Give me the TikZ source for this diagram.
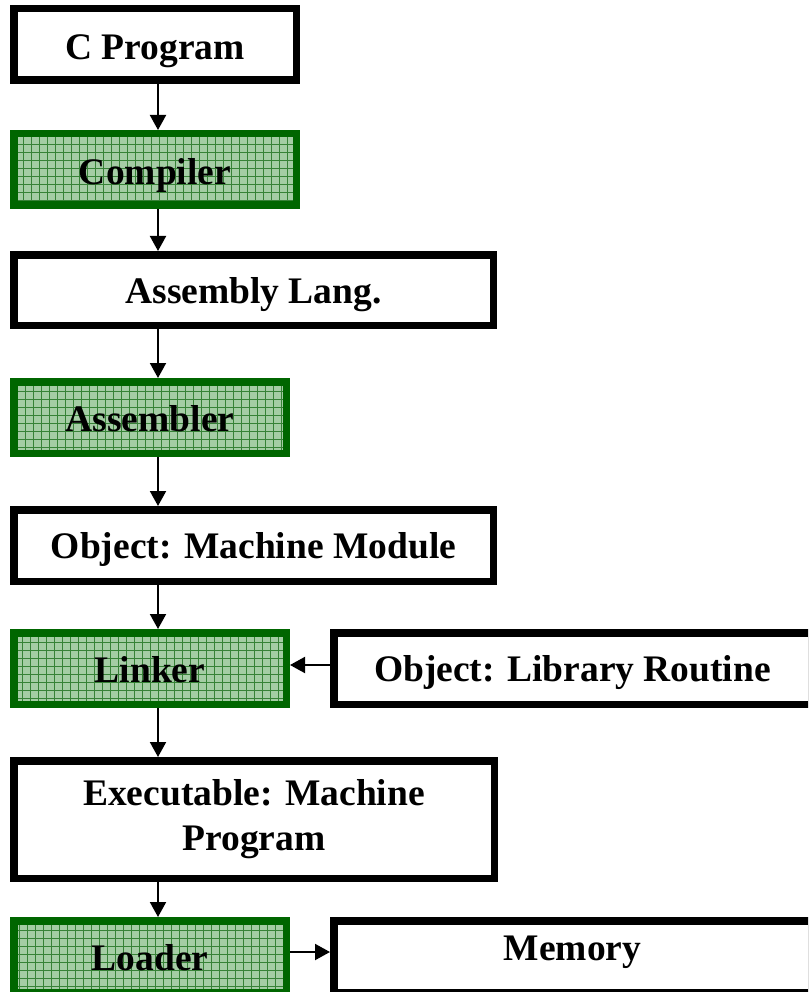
\documentclass[tikz,border=0pt]{standalone}
\usepackage{fontspec}
\setmainfont{Liberation Serif}
\usetikzlibrary{arrows.meta}
\definecolor{boxgreen}{RGB}{0,102,0}
\definecolor{fillgreen}{RGB}{165,205,165}
\definecolor{gridgreen}{RGB}{55,130,55}
\begin{document}
\begin{tikzpicture}[x=1pt,y=-1pt,
  box/.style={draw=black, line width=7.5pt, fill=white,
    font=\bfseries\fontsize{37.5}{45}\selectfont, align=center, inner sep=0pt},
  gbox/.style={box, draw=boxgreen, fill=fillgreen,
    path picture={\draw[gridgreen, line width=0.6pt]
      (path picture bounding box.south west) grid[step=8pt]
      (path picture bounding box.north east);}},
  bl/.style={text height=#1pt+2pt, text depth=2pt},
  arr/.style={line width=2pt, -{Triangle[width=16pt,length=15pt]}}]
\useasboundingbox (0,0) rectangle (808,992);
\clip (0,0) rectangle (808,992);
\coordinate (ax) at (158,0);
\coordinate (ly) at (0,665);
\coordinate (my) at (0,952);
\node[box, bl=30, minimum width=282.5pt, minimum height=71.5pt] (cprog) at (155,44.5) {C Program};
\node[gbox, bl=30, minimum width=282.5pt, minimum height=71.5pt] (compiler) at (155,169.5) {Compiler};
\node[box, bl=26, minimum width=479.5pt, minimum height=70.5pt] (asm) at (253.5,290) {Assembly Lang.};
\node[gbox, bl=28, minimum width=272.5pt, minimum height=71.5pt] (assembler) at (150,417.5) {Assembler};
\node[box, bl=25, minimum width=479.5pt, minimum height=71.5pt] (objmod) at (253.5,545.5) {Object: Machine Module};
\node[gbox, bl=28, minimum width=272.5pt, minimum height=71.5pt] (linker) at (150,668.5) {Linker};
\node[box, bl=26, minimum width=477.5pt, minimum height=71.5pt] (lib) at (572.5,668.5) {Object: Library Routine};
\node[box, minimum width=480.5pt, minimum height=117.5pt] (exe) at (254,819.5) {Executable: Machine\\Program};
\node[gbox, bl=28, minimum width=272.5pt, minimum height=71.5pt] (loader) at (150,956.5) {Loader};
\node[box, bl=8, minimum width=477.5pt, minimum height=71.5pt] (memory) at (572.5,956.5) {Memory};
\draw[arr] (cprog.south -| ax) -- (compiler.north -| ax);
\draw[arr] (compiler.south -| ax) -- (asm.north -| ax);
\draw[arr] (asm.south -| ax) -- (assembler.north -| ax);
\draw[arr] (assembler.south -| ax) -- (objmod.north -| ax);
\draw[arr] (objmod.south -| ax) -- (linker.north -| ax);
\draw[arr] (linker.south -| ax) -- (exe.north -| ax);
\draw[arr] (exe.south -| ax) -- (loader.north -| ax);
\draw[arr] (lib.west |- ly) -- (linker.east |- ly);
\draw[arr] (loader.east |- my) -- (memory.west |- my);
\end{tikzpicture}
\end{document}
